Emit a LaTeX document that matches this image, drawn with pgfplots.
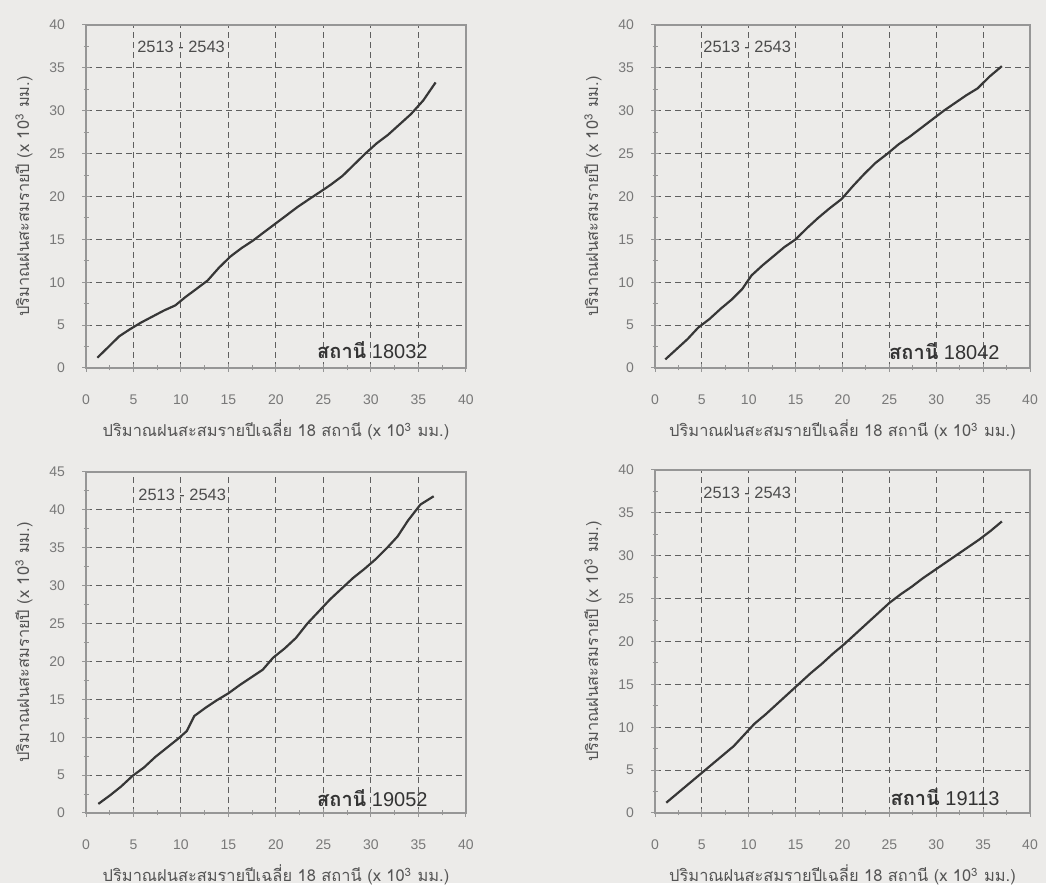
\documentclass[border=0pt]{standalone}
\usepackage{pgfplots}
\pgfplotsset{compat=1.18}
\usepackage{fontspec}
\setmainfont{Liberation Sans}
\newfontfamily\thaifont[Script=Thai]{Loma}
\definecolor{bg}{RGB}{236,235,233}
\definecolor{axgray}{RGB}{150,150,150}
\definecolor{gridgray}{RGB}{95,95,95}
\definecolor{lblgray}{RGB}{120,120,120}
\definecolor{curvecol}{RGB}{55,55,55}
\pgfplotsset{
  dm/.style={
    scale only axis,
    xmin=0, xmax=40,
    ymin=0,
    xtick={0,5,...,40},
    minor tick num=1,
    tick pos=left,
    tick align=center,
    major tick length=4pt,
    minor tick length=2.5pt,
    every tick/.style={axgray, line width=0.5pt},
    axis line style={axgray, line width=0.6pt},
    grid=major,
    major grid style={gridgray, dash pattern=on 3pt off 2pt, line width=0.5pt},
    /pgf/number format/assume math mode=true,
    tick label style={font=\fontsize{7}{8}\selectfont, text=lblgray},
    xticklabel style={yshift=-8pt},
    yticklabel style={xshift=-5pt},
    every axis x label/.style={at={(axis description cs:0.5,0)}, anchor=center, yshift=-31pt, font=\fontsize{8.2}{9}\selectfont, text=lblgray!70!black},
    every axis y label/.style={at={(axis description cs:0,0.5)}, anchor=center, xshift=-31pt, rotate=90, font=\fontsize{8.2}{9}\selectfont, text=lblgray!70!black},
    xlabel={\thaifont ปริมาณฝนสะสมรายปีเฉลี่ย 18 สถานี (x 10\textsuperscript{3} มม.)},
    ylabel={\thaifont ปริมาณฝนสะสมรายปี (x 10\textsuperscript{3} มม.)},
    every axis plot post/.append style={color=curvecol, line width=1.1pt, mark=none},
  }
}
\newcommand{\period}[2]{\node[anchor=west, inner sep=0pt, font=\fontsize{8.2}{9}\selectfont, text=black!70] at (rel axis cs:#1,#2) {2513 - 2543};}
\newcommand{\station}[3]{\node[anchor=east, inner sep=0pt, font=\fontsize{10}{11}\selectfont, text=black!80] at (rel axis cs:#1,#2) {{\thaifont\bfseries สถานี} #3};}
\begin{document}
\begin{tikzpicture}
\fill[bg] (0pt,0pt) rectangle (523pt,-441.5pt);
% Panel 1
\begin{axis}[dm, at={(43pt,-12.5pt)}, anchor=north west, width=190pt, height=171.5pt, ymax=40, ytick={0,5,...,40}]
\addplot coordinates {(1.2,1.2)(2.4,2.5)(3.5,3.7)(4.6,4.5)(5.8,5.3)(7.0,6.0)(8.2,6.7)(9.4,7.3)(10.5,8.3)(11.6,9.2)(12.8,10.2)(14.0,11.7)(15.2,13.0)(16.4,14.0)(17.5,14.8)(18.7,15.8)(19.9,16.8)(21.1,17.8)(22.3,18.8)(23.5,19.7)(24.6,20.5)(25.8,21.4)(27.0,22.4)(28.2,23.7)(29.4,25.0)(30.6,26.2)(31.8,27.2)(33.0,28.4)(34.2,29.6)(35.5,31.2)(36.8,33.3)};
\period{0.134}{0.936}
\station{0.9}{0.052}{18032}
\end{axis}
% Panel 2
\begin{axis}[dm, at={(327.5pt,-12.5pt)}, anchor=north west, width=187.5pt, height=171.5pt, ymax=40, ytick={0,5,...,40}]
\addplot coordinates {(1.1,1.0)(2.3,2.2)(3.5,3.4)(4.6,4.7)(5.8,5.7)(7.0,6.9)(8.2,8.0)(9.3,9.2)(10.3,10.8)(11.5,12.0)(12.6,13.0)(13.8,14.1)(15.0,15.0)(16.2,16.3)(17.4,17.5)(18.6,18.6)(19.9,19.7)(21.1,21.2)(22.3,22.6)(23.5,23.9)(24.8,25.0)(26.0,26.1)(27.2,27.0)(28.4,28.0)(29.6,29.0)(30.8,30.0)(32.0,30.9)(33.2,31.8)(34.4,32.6)(35.7,34.0)(37.0,35.2)};
\period{0.128}{0.936}
\station{0.92}{0.05}{18042}
\end{axis}
% Panel 3
\begin{axis}[dm, at={(43pt,-236pt)}, anchor=north west, width=190pt, height=170.5pt, ymax=45, ytick={0,5,...,45}]
\addplot coordinates {(1.3,1.2)(2.5,2.3)(3.7,3.5)(4.9,4.9)(6.1,6.0)(7.3,7.4)(8.5,8.6)(9.7,9.8)(10.6,10.8)(11.4,12.8)(12.6,13.9)(13.8,14.9)(15.0,15.8)(16.2,16.9)(17.4,17.9)(18.6,18.9)(19.7,20.5)(20.9,21.7)(22.1,23.1)(23.3,25.0)(24.5,26.6)(25.7,28.2)(26.9,29.6)(28.1,31.0)(29.3,32.2)(30.5,33.5)(31.7,35.0)(32.8,36.5)(33.9,38.6)(35.2,40.7)(36.6,41.8)};
\period{0.137}{0.933}
\station{0.9}{0.045}{19052}
\end{axis}
% Panel 4
\begin{axis}[dm, at={(327.5pt,-235pt)}, anchor=north west, width=187.5pt, height=171.5pt, ymax=40, ytick={0,5,...,40}]
\addplot coordinates {(1.2,1.2)(2.4,2.3)(3.6,3.4)(4.8,4.5)(6.0,5.6)(7.2,6.7)(8.4,7.8)(9.5,9.1)(10.6,10.4)(11.8,11.5)(13.0,12.7)(14.2,13.9)(15.4,15.1)(16.6,16.3)(17.8,17.4)(19.0,18.6)(20.2,19.7)(21.4,20.9)(22.6,22.1)(23.8,23.3)(25.0,24.5)(26.2,25.5)(27.4,26.4)(28.6,27.4)(29.8,28.3)(31.0,29.2)(32.2,30.1)(33.4,31.0)(34.6,31.9)(35.8,32.9)(37.0,34.0)};
\period{0.128}{0.933}
\station{0.92}{0.045}{19113}
\end{axis}
\end{tikzpicture}
\end{document}
